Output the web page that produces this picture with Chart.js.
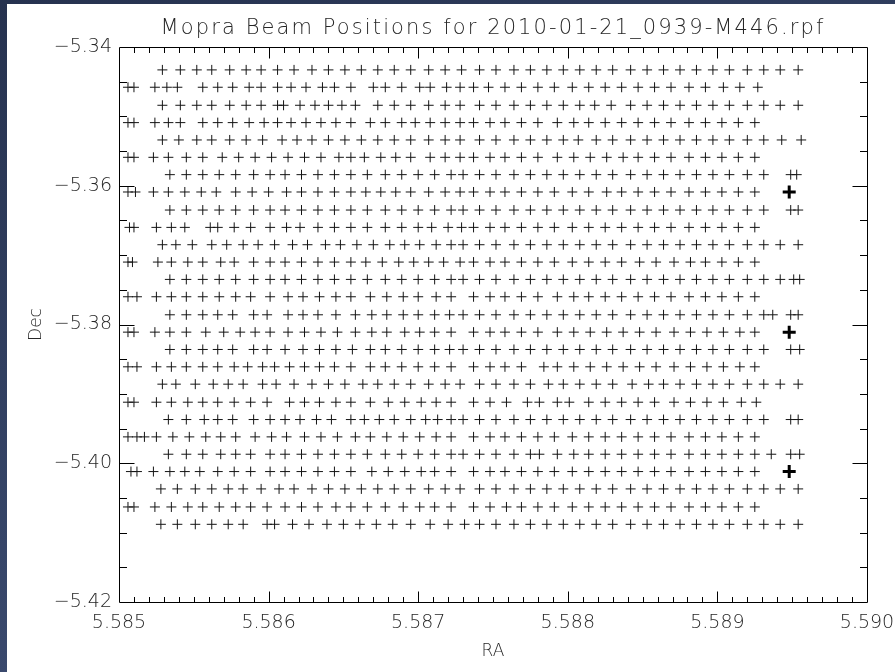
<!DOCTYPE html>
<html>
<head>
<meta charset="utf-8">
<title>Mopra Beam Positions</title>
<script src="https://cdn.jsdelivr.net/npm/chart.js@4"></script>
<style>
  html, body { margin: 0; padding: 0; width: 895px; height: 672px; overflow: hidden;
    background: linear-gradient(160deg, #26324f 0%, #364568 55%, #44537a 100%); }
  #panel { position: absolute; left: 7px; top: 4px; width: 888px; height: 668px; background: #fff; }
  canvas { display: block; }
</style>
</head>
<body>
<div id="panel"><canvas id="beams" width="888" height="668"></canvas></div>
<script>
// Dec of each OTF scan row (degrees)
const rowDec = [-5.3433, -5.3458, -5.3484, -5.3509, -5.3534, -5.3559, -5.3584, -5.3609, -5.3635,
  -5.3660, -5.3685, -5.3710, -5.3735, -5.3760, -5.3786, -5.3811, -5.3836, -5.3861, -5.3886,
  -5.3912, -5.3937, -5.3962, -5.3987, -5.4012, -5.4037, -5.4063, -5.4088];

// RA of every beam sample along each row
const row01 = [5.58529,5.58541,5.58552,5.58562,5.58574,5.58585,5.58595,5.58606,5.58617,5.58629,5.58640,5.58651,5.58662,5.58673,5.58684,5.58695,5.58707,5.58718,5.58729,5.58741,5.58752,5.58764,5.58775,5.58786,5.58797,5.58808,5.58819,5.58830,5.58842,5.58853,5.58864,5.58875,5.58886,5.58897,5.58908,5.58920,5.58931,5.58942,5.58954];
const row02 = [5.58506,5.58510,5.58524,5.58532,5.58539,5.58556,5.58566,5.58576,5.58587,5.58595,5.58606,5.58615,5.58625,5.58636,5.58644,5.58655,5.58670,5.58678,5.58689,5.58701,5.58708,5.58719,5.58728,5.58737,5.58747,5.58758,5.58769,5.58780,5.58791,5.58803,5.58814,5.58825,5.58836,5.58847,5.58858,5.58869,5.58881,5.58892,5.58904,5.58915,5.58927];
const row03 = [5.58529,5.58541,5.58552,5.58562,5.58574,5.58585,5.58595,5.58606,5.58610,5.58621,5.58631,5.58640,5.58649,5.58658,5.58673,5.58684,5.58695,5.58707,5.58718,5.58728,5.58741,5.58752,5.58764,5.58775,5.58786,5.58797,5.58808,5.58818,5.58829,5.58842,5.58853,5.58864,5.58875,5.58886,5.58897,5.58908,5.58920,5.58931,5.58942,5.58954];
const row04 = [5.58506,5.58510,5.58524,5.58533,5.58541,5.58556,5.58566,5.58576,5.58587,5.58597,5.58606,5.58615,5.58625,5.58635,5.58645,5.58655,5.58668,5.58678,5.58689,5.58698,5.58708,5.58718,5.58728,5.58737,5.58748,5.58758,5.58769,5.58780,5.58793,5.58804,5.58814,5.58825,5.58836,5.58847,5.58858,5.58869,5.58881,5.58892,5.58903,5.58914,5.58925];
const row05 = [5.58529,5.58540,5.58552,5.58562,5.58574,5.58585,5.58596,5.58609,5.58619,5.58629,5.58640,5.58651,5.58662,5.58673,5.58684,5.58695,5.58707,5.58718,5.58728,5.58741,5.58752,5.58764,5.58775,5.58786,5.58797,5.58807,5.58819,5.58830,5.58842,5.58853,5.58864,5.58875,5.58886,5.58897,5.58908,5.58920,5.58931,5.58943,5.58956];
const row06 = [5.58506,5.58510,5.58523,5.58533,5.58545,5.58556,5.58569,5.58580,5.58591,5.58602,5.58613,5.58624,5.58635,5.58647,5.58655,5.58664,5.58675,5.58685,5.58695,5.58708,5.58718,5.58728,5.58737,5.58748,5.58758,5.58769,5.58780,5.58793,5.58804,5.58815,5.58826,5.58837,5.58847,5.58858,5.58869,5.58881,5.58892,5.58903,5.58914,5.58925];
const row07 = [5.58534,5.58545,5.58556,5.58567,5.58578,5.58590,5.58601,5.58611,5.58622,5.58633,5.58644,5.58655,5.58666,5.58678,5.58689,5.58700,5.58711,5.58722,5.58730,5.58741,5.58752,5.58764,5.58775,5.58786,5.58797,5.58808,5.58819,5.58830,5.58842,5.58853,5.58864,5.58875,5.58886,5.58897,5.58908,5.58920,5.58931,5.58949,5.58953];
const row08 = [5.58506,5.58511,5.58523,5.58533,5.58544,5.58555,5.58565,5.58578,5.58589,5.58600,5.58612,5.58622,5.58633,5.58644,5.58655,5.58665,5.58675,5.58685,5.58695,5.58707,5.58718,5.58728,5.58737,5.58748,5.58758,5.58769,5.58780,5.58791,5.58803,5.58814,5.58826,5.58836,5.58847,5.58858,5.58869,5.58881,5.58892,5.58903,5.58914,5.58925];
const row09 = [5.58534,5.58545,5.58556,5.58567,5.58578,5.58590,5.58601,5.58611,5.58622,5.58633,5.58644,5.58655,5.58666,5.58678,5.58689,5.58700,5.58711,5.58722,5.58730,5.58741,5.58752,5.58764,5.58775,5.58786,5.58797,5.58808,5.58819,5.58830,5.58842,5.58853,5.58864,5.58875,5.58886,5.58897,5.58908,5.58920,5.58931,5.58949,5.58954];
const row10 = [5.58507,5.58510,5.58525,5.58535,5.58544,5.58561,5.58566,5.58577,5.58588,5.58601,5.58612,5.58621,5.58633,5.58644,5.58655,5.58666,5.58678,5.58689,5.58700,5.58709,5.58720,5.58729,5.58737,5.58748,5.58758,5.58769,5.58780,5.58791,5.58803,5.58814,5.58825,5.58836,5.58847,5.58858,5.58869,5.58881,5.58892,5.58903,5.58914,5.58925];
const row11 = [5.58529,5.58538,5.58549,5.58562,5.58572,5.58583,5.58593,5.58604,5.58616,5.58626,5.58638,5.58648,5.58659,5.58670,5.58681,5.58691,5.58701,5.58712,5.58722,5.58730,5.58741,5.58752,5.58764,5.58775,5.58786,5.58797,5.58808,5.58819,5.58830,5.58842,5.58853,5.58864,5.58875,5.58886,5.58897,5.58908,5.58920,5.58931,5.58942,5.58954];
const row12 = [5.58506,5.58509,5.58526,5.58535,5.58546,5.58556,5.58568,5.58577,5.58590,5.58601,5.58611,5.58622,5.58633,5.58644,5.58655,5.58665,5.58676,5.58687,5.58697,5.58707,5.58717,5.58728,5.58737,5.58748,5.58758,5.58769,5.58780,5.58791,5.58803,5.58814,5.58825,5.58836,5.58848,5.58859,5.58871,5.58882,5.58892,5.58903,5.58914,5.58925];
const row13 = [5.58534,5.58545,5.58556,5.58567,5.58578,5.58590,5.58601,5.58611,5.58622,5.58633,5.58644,5.58655,5.58666,5.58678,5.58689,5.58700,5.58711,5.58722,5.58730,5.58741,5.58752,5.58764,5.58775,5.58786,5.58797,5.58808,5.58819,5.58830,5.58842,5.58853,5.58864,5.58875,5.58886,5.58897,5.58908,5.58920,5.58931,5.58942,5.58951,5.58955];
const row14 = [5.58506,5.58512,5.58525,5.58535,5.58545,5.58556,5.58567,5.58578,5.58588,5.58601,5.58613,5.58623,5.58634,5.58645,5.58655,5.58668,5.58679,5.58690,5.58700,5.58712,5.58722,5.58737,5.58748,5.58758,5.58769,5.58780,5.58793,5.58804,5.58814,5.58825,5.58836,5.58847,5.58858,5.58869,5.58881,5.58892,5.58903,5.58914,5.58925];
const row15 = [5.58534,5.58545,5.58556,5.58566,5.58576,5.58590,5.58599,5.58613,5.58623,5.58633,5.58645,5.58658,5.58669,5.58679,5.58690,5.58700,5.58711,5.58721,5.58730,5.58741,5.58752,5.58764,5.58775,5.58786,5.58797,5.58808,5.58819,5.58830,5.58842,5.58853,5.58864,5.58875,5.58886,5.58897,5.58908,5.58920,5.58931,5.58937,5.58949,5.58954];
const row16 = [5.58506,5.58510,5.58524,5.58534,5.58545,5.58558,5.58570,5.58581,5.58591,5.58601,5.58613,5.58624,5.58635,5.58646,5.58658,5.58669,5.58679,5.58691,5.58701,5.58711,5.58722,5.58737,5.58748,5.58758,5.58769,5.58780,5.58793,5.58804,5.58815,5.58826,5.58837,5.58848,5.58859,5.58871,5.58882,5.58893,5.58904,5.58915,5.58925];
const row17 = [5.58534,5.58545,5.58556,5.58566,5.58576,5.58590,5.58599,5.58611,5.58623,5.58634,5.58645,5.58656,5.58668,5.58678,5.58689,5.58700,5.58711,5.58721,5.58730,5.58741,5.58752,5.58764,5.58775,5.58786,5.58797,5.58808,5.58819,5.58830,5.58842,5.58853,5.58864,5.58875,5.58886,5.58897,5.58908,5.58920,5.58931,5.58949,5.58955];
const row18 = [5.58506,5.58512,5.58525,5.58535,5.58545,5.58556,5.58566,5.58577,5.58586,5.58596,5.58604,5.58614,5.58624,5.58634,5.58644,5.58655,5.58668,5.58678,5.58689,5.58700,5.58711,5.58722,5.58737,5.58748,5.58758,5.58769,5.58784,5.58793,5.58804,5.58815,5.58826,5.58837,5.58848,5.58859,5.58871,5.58882,5.58893,5.58904,5.58915,5.58925];
const row19 = [5.58529,5.58538,5.58551,5.58563,5.58573,5.58583,5.58596,5.58605,5.58617,5.58629,5.58640,5.58651,5.58663,5.58673,5.58684,5.58695,5.58707,5.58718,5.58728,5.58741,5.58752,5.58764,5.58775,5.58787,5.58797,5.58808,5.58819,5.58830,5.58843,5.58854,5.58864,5.58875,5.58886,5.58897,5.58908,5.58920,5.58931,5.58942,5.58954];
const row20 = [5.58506,5.58510,5.58525,5.58535,5.58546,5.58556,5.58566,5.58577,5.58588,5.58599,5.58614,5.58624,5.58634,5.58645,5.58655,5.58668,5.58680,5.58691,5.58702,5.58712,5.58722,5.58737,5.58748,5.58759,5.58773,5.58781,5.58793,5.58801,5.58814,5.58825,5.58836,5.58847,5.58858,5.58871,5.58882,5.58893,5.58904,5.58916,5.58926];
const row21 = [5.58533,5.58545,5.58557,5.58566,5.58576,5.58590,5.58601,5.58611,5.58621,5.58632,5.58642,5.58655,5.58664,5.58674,5.58684,5.58695,5.58705,5.58713,5.58722,5.58730,5.58741,5.58752,5.58764,5.58775,5.58786,5.58797,5.58808,5.58819,5.58830,5.58842,5.58853,5.58864,5.58875,5.58886,5.58897,5.58908,5.58920,5.58931,5.58949,5.58954];
const row22 = [5.58506,5.58512,5.58517,5.58525,5.58536,5.58547,5.58558,5.58568,5.58578,5.58591,5.58602,5.58612,5.58624,5.58635,5.58646,5.58658,5.58668,5.58679,5.58690,5.58701,5.58712,5.58722,5.58737,5.58748,5.58758,5.58769,5.58780,5.58791,5.58803,5.58814,5.58825,5.58836,5.58847,5.58858,5.58869,5.58881,5.58892,5.58903,5.58914,5.58925];
const row23 = [5.58533,5.58545,5.58556,5.58568,5.58578,5.58588,5.58601,5.58611,5.58622,5.58633,5.58644,5.58655,5.58666,5.58678,5.58689,5.58700,5.58711,5.58722,5.58730,5.58741,5.58752,5.58764,5.58775,5.58781,5.58793,5.58804,5.58814,5.58825,5.58836,5.58847,5.58858,5.58869,5.58881,5.58892,5.58903,5.58914,5.58925,5.58936,5.58949,5.58955];
const row24 = [5.58508,5.58512,5.58523,5.58534,5.58544,5.58554,5.58566,5.58577,5.58588,5.58601,5.58611,5.58622,5.58633,5.58644,5.58655,5.58669,5.58680,5.58691,5.58702,5.58711,5.58722,5.58737,5.58748,5.58758,5.58769,5.58780,5.58791,5.58803,5.58814,5.58825,5.58836,5.58847,5.58858,5.58869,5.58881,5.58892,5.58903,5.58914,5.58925];
const row25 = [5.58528,5.58539,5.58551,5.58562,5.58573,5.58583,5.58595,5.58607,5.58617,5.58629,5.58640,5.58651,5.58662,5.58673,5.58684,5.58695,5.58707,5.58718,5.58728,5.58741,5.58752,5.58764,5.58775,5.58786,5.58797,5.58808,5.58819,5.58830,5.58842,5.58853,5.58864,5.58875,5.58886,5.58897,5.58908,5.58920,5.58931,5.58942,5.58954];
const row26 = [5.58506,5.58510,5.58524,5.58535,5.58546,5.58556,5.58567,5.58578,5.58588,5.58599,5.58611,5.58622,5.58633,5.58645,5.58655,5.58666,5.58678,5.58690,5.58701,5.58711,5.58722,5.58737,5.58748,5.58759,5.58769,5.58780,5.58791,5.58803,5.58814,5.58825,5.58836,5.58847,5.58858,5.58869,5.58881,5.58892,5.58903,5.58914,5.58925];
const row27 = [5.58528,5.58539,5.58551,5.58562,5.58573,5.58583,5.58599,5.58604,5.58616,5.58627,5.58639,5.58650,5.58661,5.58672,5.58683,5.58695,5.58708,5.58720,5.58731,5.58741,5.58752,5.58764,5.58775,5.58786,5.58797,5.58808,5.58819,5.58830,5.58842,5.58853,5.58864,5.58875,5.58886,5.58897,5.58908,5.58920,5.58931,5.58942,5.58954];

// reference (pointing) positions, drawn heavier
const refRa  = [5.58948, 5.58948, 5.58948];
const refDec = [-5.3609, -5.3811, -5.4012];

// axis ranges and labelled ticks
const raRange  = [5.585, 5.590];
const decRange = [-5.42, -5.34];
const raStep = 0.001, raMinorStep = 0.0001;
const decStep = 0.02, decMinorStep = 0.005;

const chartTitle = 'Mopra Beam Positions for 2010-01-21_0939-M446.rpf';

const rows = [row01,row02,row03,row04,row05,row06,row07,row08,row09,row10,row11,row12,row13,row14,
  row15,row16,row17,row18,row19,row20,row21,row22,row23,row24,row25,row26,row27];

const beamPoints = [];
rows.forEach((row, i) => row.forEach(ra => beamPoints.push({ x: ra, y: rowDec[i] })));
const refPoints = refRa.map((ra, i) => ({ x: ra, y: refDec[i] }));

const FONT = "'DejaVu Sans', 'Liberation Sans', sans-serif";
const INK = '#262626';

// IDL-style frame: full box with inward major/minor ticks on all four sides
const frameTicks = {
  id: 'frameTicks',
  afterDraw(chart) {
    const { ctx, chartArea: a, scales: { x, y } } = chart;
    const L = Math.round(a.left) + 0.5, R = Math.round(a.right) + 0.5;
    const T = Math.round(a.top) + 0.5, B = Math.round(a.bottom) + 0.5;
    ctx.save();
    ctx.strokeStyle = '#000';
    ctx.lineWidth = 1;
    ctx.beginPath();
    ctx.rect(L, T, R - L, B - T);
    const nx = Math.round((raRange[1] - raRange[0]) / raMinorStep);
    const perX = Math.round(raStep / raMinorStep);
    for (let i = 1; i < nx; i++) {
      const px = Math.round(x.getPixelForValue(raRange[0] + i * raMinorStep)) + 0.5;
      const major = i % perX === 0;
      const lb = major ? 11 : 5.5;
      ctx.moveTo(px, B); ctx.lineTo(px, B - lb);
      ctx.moveTo(px, T); ctx.lineTo(px, T + lb);
    }
    const ny = Math.round((decRange[1] - decRange[0]) / decMinorStep);
    const perY = Math.round(decStep / decMinorStep);
    for (let i = 1; i < ny; i++) {
      const py = Math.round(y.getPixelForValue(decRange[0] + i * decMinorStep)) + 0.5;
      const major = i % perY === 0;
      const ll = major ? 15 : 7.5;
      ctx.moveTo(L, py); ctx.lineTo(L + ll, py);
      ctx.moveTo(R, py); ctx.lineTo(R - ll, py);
    }
    ctx.stroke();
    ctx.restore();
  }
};

const chart = new Chart(document.getElementById('beams'), {
  type: 'scatter',
  data: {
    datasets: [
      { data: beamPoints, pointStyle: 'cross', pointRadius: 5, pointBorderWidth: 1,
        borderColor: '#141414', backgroundColor: '#141414' },
      { data: refPoints, pointStyle: 'cross', pointRadius: 6.5, pointBorderWidth: 3,
        borderColor: '#000', backgroundColor: '#000' }
    ]
  },
  options: {
    responsive: false,
    animation: false,
    devicePixelRatio: 1,
    events: [],
    layout: { padding: { left: 0, right: 28, top: 0, bottom: 0 } },
    plugins: {
      legend: { display: false },
      tooltip: { enabled: false },
      title: {
        display: true, text: chartTitle, fullSize: false, color: INK,
        font: { family: FONT, size: 21, weight: 200 },
        padding: { top: 12, bottom: 5.8 }
      }
    },
    scales: {
      x: {
        type: 'linear', min: raRange[0], max: raRange[1],
        afterFit(s) { s.height = 70; s.paddingLeft = 0; s.paddingRight = 0; },
        grid: { display: false, drawTicks: false },
        border: { display: false },
        ticks: { stepSize: raStep, autoSkip: false, maxRotation: 0, padding: 10, color: INK,
          font: { family: FONT, size: 19, weight: 200 },
          callback: v => Number(v).toFixed(3) },
        title: { display: true, text: 'RA', color: INK, font: { family: FONT, size: 17, weight: 200 },
          padding: { top: 0, bottom: 10 } }
      },
      y: {
        type: 'linear', min: decRange[0], max: decRange[1],
        afterFit(s) { s.width = 112; },
        grid: { display: false, drawTicks: false },
        border: { display: false },
        ticks: { stepSize: decStep, autoSkip: false, padding: 7, color: INK,
          font: { family: FONT, size: 19, weight: 200 },
          callback: v => Number(v).toFixed(2).replace('-', '\u2212') },
        title: { display: true, text: 'Dec', color: INK, font: { family: FONT, size: 17, weight: 200 },
          padding: { top: 19, bottom: 0 } }
      }
    }
  },
  plugins: [frameTicks]
});

// the title is set with wide tracking, like the plotting package's vector font
const titleBox = chart.titleBlock;
if (titleBox) {
  const drawTitle = titleBox.draw.bind(titleBox);
  titleBox.draw = function () {
    const c = this.ctx;
    c.save();
    c.letterSpacing = '2.1px';
    drawTitle();
    c.restore();
  };
  chart.draw();
}
</script>
</body>
</html>
